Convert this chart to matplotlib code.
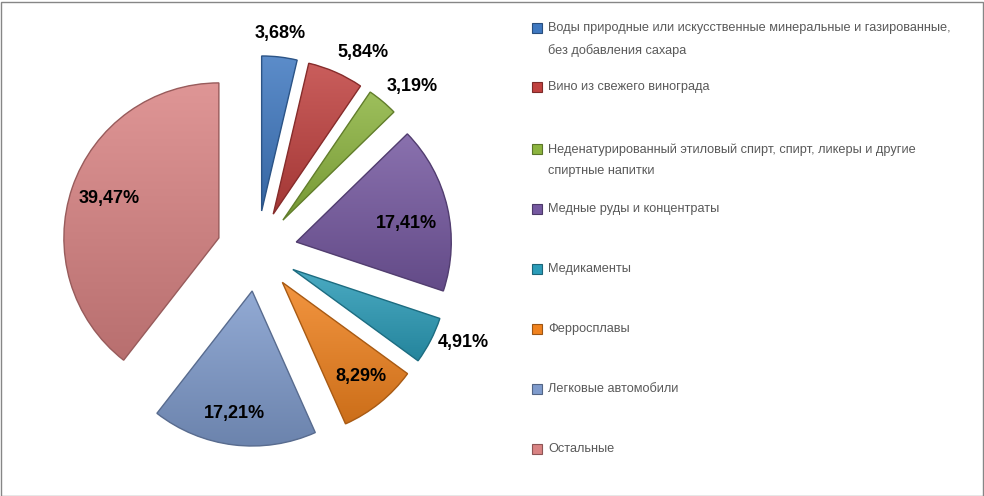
import matplotlib
matplotlib.use("Agg")
import matplotlib.pyplot as plt
import numpy as np
from matplotlib.patches import Rectangle, PathPatch
from matplotlib.colors import to_rgb

# data
categories = [
    "Воды природные или искусственные минеральные и газированные,\nбез добавления сахара",
    "Вино из свежего винограда",
    "Неденатурированный этиловый спирт, спирт, ликеры и другие\nспиртные напитки",
    "Медные руды и концентраты",
    "Медикаменты",
    "Ферросплавы",
    "Легковые автомобили",
    "Остальные",
]
shares = [3.68, 5.84, 3.19, 17.41, 4.91, 8.29, 17.21, 39.47]
pct_labels = ["3,68%", "5,84%", "3,19%", "17,41%", "4,91%", "8,29%", "17,21%", "39,47%"]

colors = ["#3f78c0", "#c0413f", "#8cb43f", "#7558a0", "#2b9cb8", "#f0821e", "#7f9bcc", "#d98383"]
# label placement: radial distance (pie radii, from the exploded centre) and angle tweak (deg)
label_dist = [1.15, 1.19, 1.20, 0.72, 1.20, 0.79, 0.80, 0.75]
label_shift = [0.7, -5.3, -3.9, -3.2, 4.0, 0.7, -1.5, -0.8]

W, H = 984, 496
fig = plt.figure(figsize=(W / 100, H / 100), dpi=100)
fig.patch.set_facecolor("white")

# pie axes: centre ~ (257, 250) px, radius ~155 px
size = 500
R = 155
cx, cy = 257, H - 251
ax = fig.add_axes([(cx - size / 2) / W, (cy - size / 2) / H, size / W, size / H])
lim = size / 2 / R

wedges, _ = ax.pie(shares, colors=colors, startangle=90, counterclock=False,
                   explode=[0.26] * len(shares), radius=1,
                   wedgeprops=dict(linewidth=0))


def shade(c, f):
    r = np.array(to_rgb(c))
    if f >= 0:
        return r + (1 - r) * f
    return r * (1 + f)


for w, c in zip(wedges, colors):
    path = w.get_path()
    ext = path.get_extents()
    n = 64
    top = shade(c, 0.15)
    bot = shade(c, -0.15)
    t = np.linspace(0, 1, n)[:, None]
    grad = (top[None, :] * (1 - t) + bot[None, :] * t)[:, None, :]
    img = ax.imshow(grad, extent=[ext.x0, ext.x1, ext.y0, ext.y1], origin="upper",
                    aspect="auto", zorder=2, interpolation="bilinear")
    img.set_clip_path(w)
    ax.add_patch(PathPatch(path, fill=False, ec=shade(c, -0.3), lw=1.0, zorder=3))

for w, lab, d, s in zip(wedges, pct_labels, label_dist, label_shift):
    th = np.deg2rad((w.theta1 + w.theta2) / 2 + s)
    x0, y0 = w.center
    ax.text(x0 + d * np.cos(th), y0 + d * np.sin(th), lab, ha="center", va="center",
            fontsize=13, fontweight="bold", family="Liberation Sans",
            color="black", zorder=4)

ax.set_xlim(-lim, lim)
ax.set_ylim(-lim, lim)
ax.axis("off")

# legend
leg_y = [27, 86, 148, 208, 268, 328, 388, 448]
for y, lab, c in zip(leg_y, categories, colors):
    fig.add_artist(Rectangle((532 / W, 1 - (y + 6) / H), 10 / W, 10 / H,
                             transform=fig.transFigure, fc=c, ec=shade(c, -0.35), lw=0.8))
    fig.text(548 / W, 1 - (y - 5) / H, lab, ha="left", va="top", fontsize=9.2,
             family="Liberation Sans", color="#595959", linespacing=2.05)

fig.add_artist(Rectangle((0.5 / W, 0.5 / H), (W - 2) / W, (H - 2) / H,
                         transform=fig.transFigure, fill=False, ec="#868686", lw=1))

fig.savefig("out.png", dpi=100)
